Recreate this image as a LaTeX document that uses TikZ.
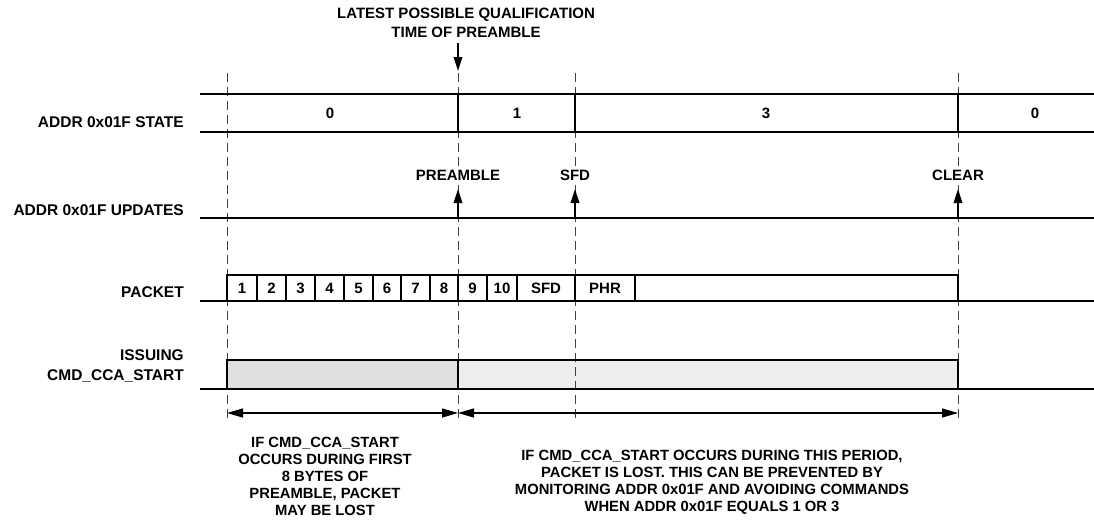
\documentclass[tikz,border=0pt]{standalone}
\usepackage{fontspec}
\setmainfont{Liberation Sans}
\usetikzlibrary{arrows.meta}
\definecolor{darkfill}{HTML}{E0E0E0}
\definecolor{lightfill}{HTML}{EEEEEE}
\definecolor{dashgray}{HTML}{404040}
\tikzset{
  lbl/.style={font=\bfseries\fontsize{15}{19}\selectfont, inner sep=0pt},
  updlbl/.style={lbl, fill=white, inner xsep=1pt, inner ysep=3pt},
  rowlbl/.style={font=\bfseries\fontsize{15.5}{20}\selectfont, inner sep=0pt, anchor=east, align=right},
  note/.style={font=\bfseries\fontsize{14.8}{17}\selectfont, inner sep=0pt, align=center},
  rowline/.style={line width=2pt},
  tick/.style={line width=2.4pt},
  cellline/.style={line width=2pt},
  guide/.style={dashed, dash pattern=on 9pt off 5pt, line width=1pt, dashgray},
  uparrow/.style={line width=1.8pt, -{Triangle[length=14pt,width=8.5pt]}},
  span/.style={line width=1.2pt, {Triangle[length=16pt,width=9pt]}-{Triangle[length=16pt,width=9pt]}},
}
\begin{document}
\begin{tikzpicture}[x=1pt,y=-1pt]
\useasboundingbox (0,0) rectangle (1094,525);

% shaded CCA boxes
\fill[darkfill] (227,360) rectangle (458,389);
\fill[lightfill] (458,360) rectangle (958,389);

% guide lines
\foreach \n/\x in {ga/227,gb/458,gc/575,gd/958}{
  \coordinate (\n top) at (\x,73);
  \coordinate (\n bot) at (\x,418);
  \draw[guide] (\n top) -- (\n bot);
}

% top note
\node[lbl, align=center] (topnote) at (466,23) {LATEST POSSIBLE QUALIFICATION\\TIME OF PREAMBLE};
\coordinate (toparrowtail) at (458,43);
\coordinate (toparrowtip) at (458,71);
\draw[uparrow] (toparrowtail) -- (toparrowtip);

% State row
\coordinate (sL1) at (200,94); \coordinate (sR1) at (1094,94);
\coordinate (sL2) at (200,132); \coordinate (sR2) at (1094,132);
\draw[rowline] (sL1) -- (sR1);
\draw[rowline] (sL2) -- (sR2);
\foreach \x in {458,575,958}{ \draw[tick] (\x,94) -- (\x,132); }
\node[lbl] (s0) at (330,113) {0};
\node[lbl] (s1) at (517,113) {1};
\node[lbl] (s3) at (766,113) {3};
\node[lbl] (s0b) at (1035,113) {0};
\node[rowlbl] (lstate) at (184,122) {ADDR 0x01F STATE};

% Updates row
\coordinate (uL) at (200,218); \coordinate (uR) at (1094,218);
\draw[rowline] (uL) -- (uR);
\node[rowlbl] (lupd) at (184,210) {ADDR 0x01F UPDATES};
\node[updlbl] (upre) at (458,175) {PREAMBLE};
\node[updlbl] (usfd) at (575,175) {SFD};
\node[updlbl] (uclr) at (958,175) {CLEAR};
\foreach \x in {458,575,958}{ \draw[uparrow] (\x,218) -- (\x,189); }

% Packet row
\coordinate (pL) at (200,301); \coordinate (pR) at (1094,301);
\draw[rowline] (pL) -- (pR);
\node[rowlbl] (lpkt) at (184,292) {PACKET};
\draw[cellline] (227,301) -- (227,275) -- (958,275) -- (958,301);
\foreach \x in {257,286,315,344,373,401,430,458,487,517,575,635}{
  \draw[cellline] (\x,275) -- (\x,301);
}
\foreach \a/\b/\t in {227/257/1,257/286/2,286/315/3,315/344/4,344/373/5,373/401/6,401/430/7,430/458/8,458/487/9,487/517/10,517/575/SFD,575/635/PHR}{
  \node[lbl] at ({(\a+\b)/2},288) {\t};
}

% CCA row
\coordinate (cL) at (200,389); \coordinate (cR) at (1094,389);
\draw[cellline] (227,389) -- (227,360) -- (958,360) -- (958,389);
\draw[cellline] (458,360) -- (458,389);
\draw[rowline] (cL) -- (cR);
\node[rowlbl] (lcca) at (184,366) {ISSUING\\CMD\_CCA\_START};

% span arrows
\coordinate (a1) at (227,413); \coordinate (a2) at (458,413); \coordinate (a3) at (958,413);
\draw[span] (a1) -- (a2);
\draw[span] (a2) -- (a3);

% notes
\node[note] (n1) at (325,476) {IF CMD\_CCA\_START\\OCCURS DURING FIRST\\8 BYTES OF\\PREAMBLE, PACKET\\MAY BE LOST};
\node[note] (n2) at (712,482) {IF CMD\_CCA\_START OCCURS DURING THIS PERIOD,\\PACKET IS LOST. THIS CAN BE PREVENTED BY\\MONITORING ADDR 0x01F AND AVOIDING COMMANDS\\WHEN ADDR 0x01F EQUALS 1 OR 3};
\end{tikzpicture}
\end{document}
